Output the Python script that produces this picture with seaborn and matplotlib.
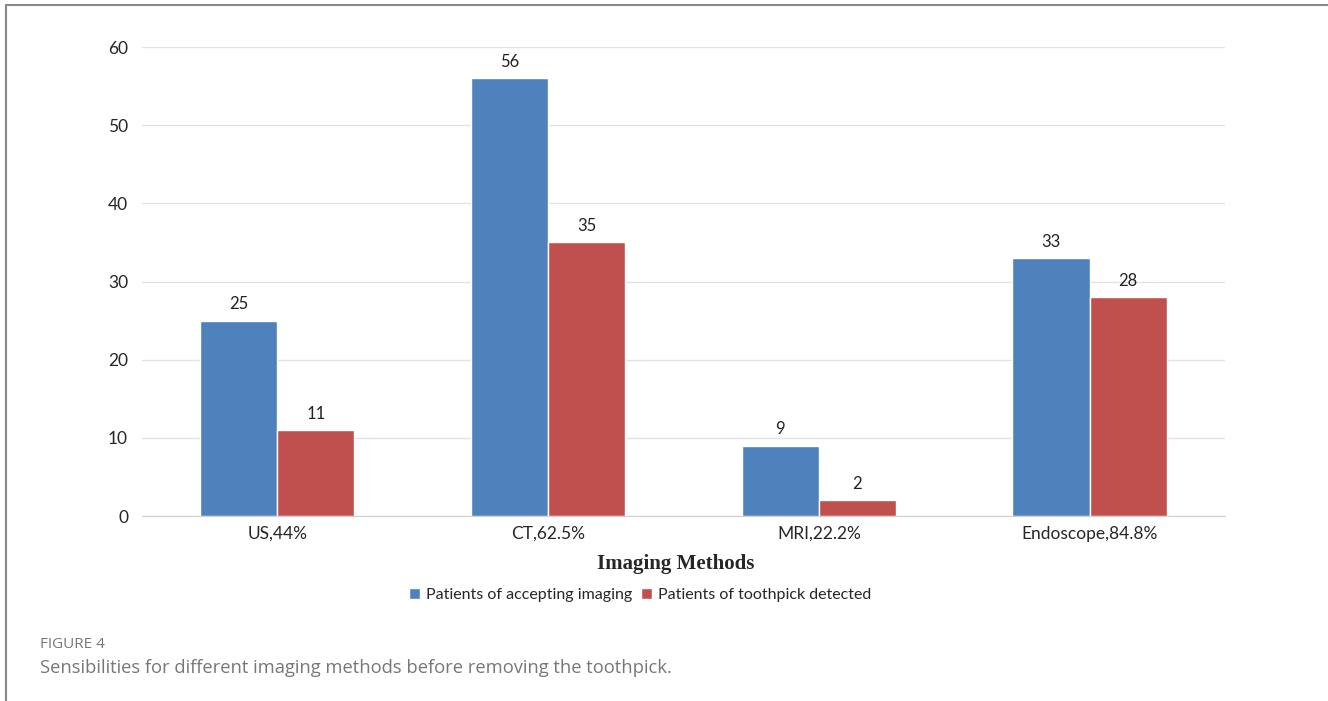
import numpy as np
import pandas as pd
import matplotlib.pyplot as plt
import seaborn as sns
from matplotlib.lines import Line2D

# values
methods = ["US,44%", "CT,62.5%", "MRI,22.2%", "Endoscope,84.8%"]
accepting = [25, 56, 9, 33]
detected = [11, 35, 2, 28]
series = ["Patients of accepting imaging", "Patients of toothpick detected"]

df = pd.DataFrame({
    "method": methods * 2,
    "count": accepting + detected,
    "group": [series[0]] * len(methods) + [series[1]] * len(methods),
})

sns.set_style("white")
plt.rcParams["font.family"] = ["Lato", "DejaVu Sans"]

fig = plt.figure(figsize=(13.28, 7.01), dpi=100)
ax = fig.add_axes([0.1069, 0.2639, 0.8155, 0.6690])

sns.barplot(data=df, x="method", y="count", hue="group", order=methods,
            hue_order=series, palette=["#4F81BD", "#C0504D"], width=0.57,
            saturation=1, ax=ax, legend=True)

for cont in ax.containers:
    ax.bar_label(cont, padding=6, fontsize=12, color="#222222")

ax.set_ylim(0, 60)
ax.set_yticks(range(0, 61, 10))
ax.set_xlim(-0.5, len(methods) - 0.5)
ax.yaxis.grid(True, color="#e3e3e3", linewidth=1)
ax.set_axisbelow(True)
for s in ["top", "right", "left"]:
    ax.spines[s].set_visible(False)
ax.spines["bottom"].set_color("#d0d0d0")

ax.set_xticks(np.arange(-0.5, len(methods), 1), minor=True)
ax.tick_params(axis="x", which="major", length=0, pad=7, labelsize=12.5)
ax.tick_params(axis="x", which="minor", length=6, color="#d0d0d0", width=1)
ax.tick_params(axis="y", length=0, pad=10, labelsize=12.5)

ax.set_ylabel("")
ax.set_xlabel("Imaging Methods", fontsize=15, fontweight="bold",
              family="Liberation Serif")
ax.xaxis.set_label_coords(0.493, -0.082)

ax.legend(loc="upper center", bbox_to_anchor=(0.46, -0.122), ncol=2,
          frameon=False, fontsize=11.5, handlelength=0.7, handleheight=0.7,
          handletextpad=0.4, columnspacing=0.5)

# page frame and caption
fig.add_artist(Line2D([6 / 1328, 1], [1 - 5 / 701, 1 - 5 / 701], color="#888888", lw=1.5))
fig.add_artist(Line2D([6 / 1328, 6 / 1328], [0, 1 - 5 / 701], color="#888888", lw=1.5))
fig.text(40 / 1328, 1 - 645 / 701, "FIGURE 4", fontsize=11, color="#777777",
         family="Open Sans", va="center")
fig.text(40 / 1328, 1 - 668 / 701,
         "Sensibilities for different imaging methods before removing the toothpick.",
         fontsize=13.2, color="#777777", family="Open Sans", va="center")

fig.savefig("out.png", dpi=100)
